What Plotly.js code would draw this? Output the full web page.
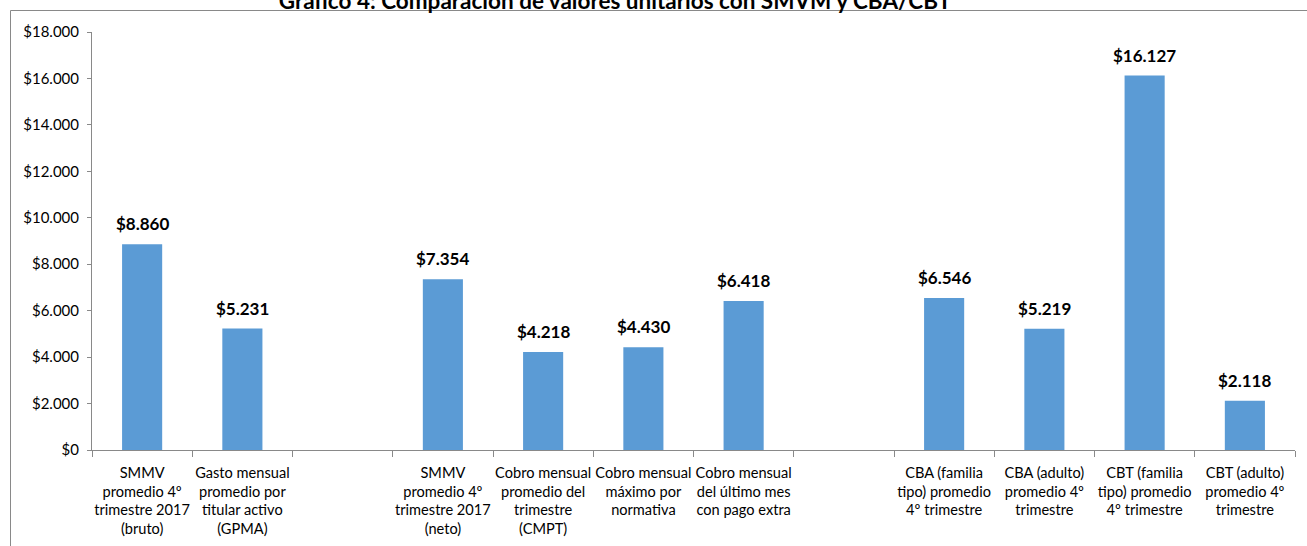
<!DOCTYPE html>
<html>
<head>
<meta charset="utf-8">
<script src="https://cdn.plot.ly/plotly-3.0.1.min.js"></script>
<style>html,body{margin:0;padding:0;background:#fff;}#chart{width:1307px;height:546px;}</style>
</head>
<body>
<div id="chart"></div>
<script>
const chartTitle = "Gráfico 4: Comparación de valores unitarios con SMVM y CBA/CBT";
const categories = [
  "SMMV<br>promedio 4º<br>trimestre 2017<br>(bruto)",
  "Gasto mensual<br>promedio por<br>titular activo<br>(GPMA)",
  " ",
  "SMMV<br>promedio 4º<br>trimestre 2017<br>(neto)",
  "Cobro mensual<br>promedio del<br>trimestre<br>(CMPT)",
  "Cobro mensual<br>máximo por<br>normativa",
  "Cobro mensual<br>del último mes<br>con pago extra",
  "  ",
  "CBA (familia<br>tipo) promedio<br>4º trimestre",
  "CBA (adulto)<br>promedio 4º<br>trimestre",
  "CBT (familia<br>tipo) promedio<br>4º trimestre",
  "CBT (adulto)<br>promedio 4º<br>trimestre"
];
const values = [8860, 5231, null, 7354, 4218, 4430, 6418, null, 6546, 5219, 16127, 2118];
const yTickVals = [0, 2000, 4000, 6000, 8000, 10000, 12000, 14000, 16000, 18000];

function fmt(v) {
  return "$" + v.toString().replace(/\B(?=(\d{3})+(?!\d))/g, ".");
}

const FONT = "Lato, 'Open Sans', sans-serif";

const annotations = [];
categories.forEach((c, i) => {
  if (values[i] !== null) {
    annotations.push({
      x: c, y: values[i], xref: "x", yref: "y",
      text: "<b>" + fmt(values[i]) + "</b>",
      showarrow: false, yanchor: "bottom", yshift: 8,
      font: {family: FONT, size: 17, color: "#000"}
    });
  }
});

const trace = {
  type: "bar",
  x: categories,
  y: values,
  marker: {color: "#5B9BD5"},
  hoverinfo: "none"
};

const L = 92, R = 1295, T = 32, B = 450;
const W = R - L, H = B - T;
const px = x => (x - L) / W;
const py = y => (B - y) / H;

const layout = {
  width: 1307, height: 546,
  margin: {l: L, r: 1307 - R, t: T, b: 546 - B},
  paper_bgcolor: "#fff", plot_bgcolor: "#fff",
  showlegend: false,
  bargap: 0.6,
  font: {family: FONT, size: 14, color: "#000"},
  title: {
    text: "<b>" + chartTitle + "</b>",
    font: {family: FONT, size: 22.5, color: "#000"},
    x: 615 / 1307, xanchor: "center",
    xref: "container", yref: "container",
    y: 1 - 1 / 546, yanchor: "middle"
  },
  xaxis: {
    type: "category",
    tickson: "boundaries",
    ticks: "outside", ticklen: 6, tickcolor: "#898989",
    showline: true, linecolor: "#898989", linewidth: 1,
    showgrid: false, zeroline: false,
    tickangle: 0,
    ticklabelstandoff: 9,
    tickfont: {family: FONT, size: 14.6, color: "#000"}
  },
  yaxis: {
    range: [0, 18000],
    tickvals: yTickVals,
    ticktext: yTickVals.map(fmt),
    ticks: "outside", ticklen: 4, tickcolor: "#898989",
    showline: true, linecolor: "#898989", linewidth: 1,
    showgrid: false, zeroline: false,
    ticklabelstandoff: 5,
    tickfont: {family: FONT, size: 15, color: "#000"}
  },
  annotations: annotations,
  shapes: [{
    type: "rect", xref: "paper", yref: "paper", layer: "below",
    x0: px(10.5), x1: px(1330), y0: py(10.5), y1: py(580),
    line: {color: "#898989", width: 1}, fillcolor: "rgba(0,0,0,0)"
  }]
};

Plotly.newPlot("chart", [trace], layout, {displayModeBar: false, staticPlot: true});
</script>
</body>
</html>
